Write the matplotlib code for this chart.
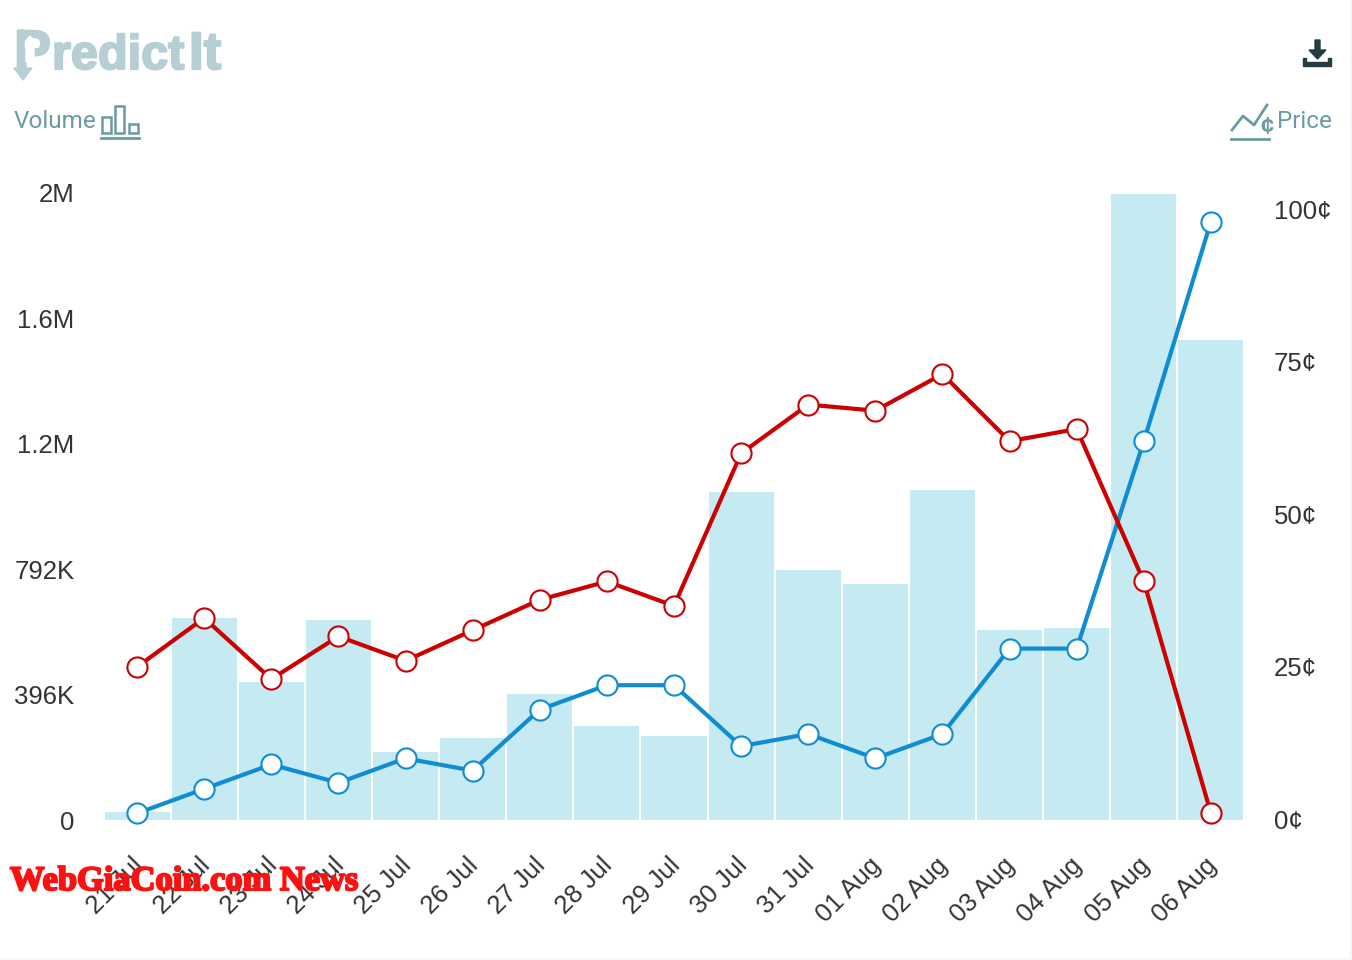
import matplotlib
matplotlib.use("Agg")
import matplotlib.pyplot as plt
import matplotlib.patheffects as pe
from matplotlib.patches import Polygon, Rectangle
from matplotlib.transforms import ScaledTranslation

dates = ["21 Jul", "22 Jul", "23 Jul", "24 Jul", "25 Jul", "26 Jul", "27 Jul", "28 Jul", "29 Jul",
         "30 Jul", "31 Jul", "01 Aug", "02 Aug", "03 Aug", "04 Aug", "05 Aug", "06 Aug"]
volume = [25, 638, 436, 632, 215, 259, 398, 297, 265, 1036, 789, 745, 1042, 600, 606, 1977, 1516]
blue_price = [1, 5, 9, 6, 10, 8, 18, 22, 22, 12, 14, 10, 14, 28, 28, 62, 98]
red_price = [25, 33, 23, 30, 26, 31, 36, 39, 35, 60, 68, 67, 73, 62, 64, 39, 1]
volume_ticks = [0, 396, 792, 1188, 1584, 1980]
volume_labels = ["0", "396K", "792K", "1.2M", "1.6M", "2M"]
price_ticks = [0, 25, 50, 75, 100]
price_labels = ["0¢", "25¢", "50¢", "75¢", "100¢"]

W, H = 1352, 960
TEXT = "#333333"
TEAL = "#6A9BA3"
LOGO = "#B5CFD4"
DARK = "#263C44"

plt.rcParams["font.family"] = ["Liberation Sans", "DejaVu Sans"]

fig = plt.figure(figsize=(W / 100, H / 100), dpi=100)

# chart area in pixels: x 103.5..1244.5, y 190..820
ax = fig.add_axes([103.5 / W, 1 - 820 / H, 1141 / W, 630 / H])
ax.bar(range(len(dates)), volume, width=0.97, color="#C5EAF2")
ax.set_xlim(-0.5, 16.5)
ax.set_ylim(0, 630 / 125.4 * 396)
ax.set_yticks(volume_ticks)
ax.set_yticklabels(volume_labels, fontsize=18.5, color=TEXT)
ax.set_xticks(range(len(dates)))
ax.set_xticklabels(dates, fontsize=18.5, color=TEXT, rotation=45, ha="right", va="center",
                   rotation_mode="anchor")
ax.tick_params(axis="y", length=0, pad=21)
ax.tick_params(axis="x", length=0, pad=30)
# labels sit a little right of the tick position
shift = ScaledTranslation(2 / 100, 0, fig.dpi_scale_trans)
for label in ax.get_xticklabels():
    label.set_transform(label.get_transform() + shift)

ax2 = ax.twinx()
ax2.plot(range(len(dates)), blue_price, color="#0F8CD2", lw=3, marker="o", ms=14.5,
         mfc="white", mec="#0F8CD2", mew=1.5)
ax2.plot(range(len(dates)), red_price, color="#CC0000", lw=3, marker="o", ms=14.5,
         mfc="white", mec="#CC0000", mew=1.5)
ax2.set_ylim(-0.1, 630 / 6.1 - 0.1)
ax2.set_yticks(price_ticks)
ax2.set_yticklabels(price_labels, fontsize=18.5, color=TEXT)
ax2.tick_params(axis="y", length=0, pad=21)
for a in (ax, ax2):
    for s in a.spines.values():
        s.set_visible(False)
    a.patch.set_visible(False)
    for line in a.get_lines():
        line.set_clip_on(False)

# overlay in pixel coordinates for logo and icons
ov = fig.add_axes([0, 0, 1, 1], zorder=5)
ov.set_xlim(0, W)
ov.set_ylim(H, 0)
ov.axis("off")

# logo
heavy = [pe.withStroke(linewidth=1.5, foreground=LOGO)]
ov.text(14, 69, "P", fontsize=40, fontweight="bold", color=LOGO, va="baseline", path_effects=heavy)
ov.text(52, 69, "redict", fontsize=35, fontweight="bold", color=LOGO, va="baseline", path_effects=heavy)
ov.text(189, 69, "It", fontsize=38, fontweight="bold", color=LOGO, va="baseline", path_effects=heavy)
ov.add_patch(Polygon([(30, 36), (39, 47), (34, 47), (34, 62), (26, 62), (26, 47), (21, 47)],
                     color="white", zorder=3))
ov.add_patch(Polygon([(18, 30), (24, 30), (24, 68), (32, 68), (23, 80), (14, 68), (18, 68)],
                     color=LOGO, zorder=4))

# volume label and icon
ov.text(14, 122, "Volume", fontsize=17.5, color=TEAL, va="center", family=["Roboto"])
for x0, y0, x1 in [(102, 117, 111), (115, 106, 124), (129, 124, 138)]:
    ov.add_patch(Rectangle((x0, y0), x1 - x0, 133 - y0, fill=False, ec=TEAL, lw=1.8))
ov.plot([101, 139], [138, 138], color=TEAL, lw=2)

# price label and icon
ov.text(1332, 122, "Price", fontsize=17.5, color=TEAL, va="center", ha="right", family=["Roboto"])
ov.plot([1232, 1243, 1254, 1267], [130, 116, 125, 105], color=TEAL, lw=2)
ov.plot([1231, 1269], [139, 139], color=TEAL, lw=2)
ov.text(1267, 127, "¢", fontsize=17, fontweight="bold", color=TEAL, ha="center", va="center")

# download icon
ov.add_patch(Polygon([(1315, 40), (1320, 40), (1320, 50), (1326, 50), (1317.5, 59), (1309, 50), (1315, 50)],
                     color=DARK))
ov.add_patch(Polygon([(1303, 58), (1306, 58), (1306, 62), (1328, 62), (1328, 58), (1331, 58), (1331, 66), (1303, 66)],
                     color=DARK))

# faint page edge
ov.add_patch(Rectangle((1350, 0), 2, H, color="#F5F5F5", lw=0))
ov.add_patch(Rectangle((0, 958), W, 2, color="#F8F8F8", lw=0))

# watermark
ov.text(10, 890, "WebGiaCoin.com News", fontsize=24.8, fontweight="bold", color="#FF1010",
        family=["Liberation Serif", "DejaVu Sans"], va="baseline",
        path_effects=[pe.withStroke(linewidth=1.5, foreground="#FF1010")])

fig.savefig("out.png", dpi=100)
